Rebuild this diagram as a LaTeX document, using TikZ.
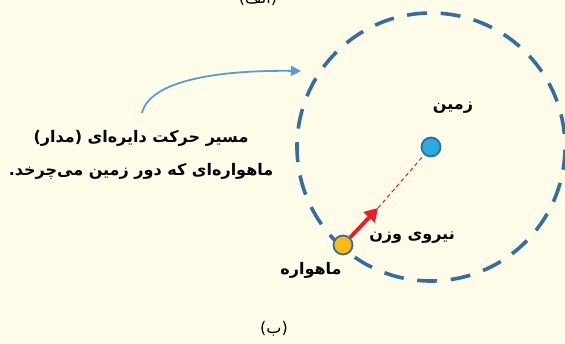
\documentclass[tikz,border=0pt]{standalone}
\usepackage{fontspec}
\newfontfamily\farsi[Script=Arabic]{DejaVu Sans}
\TeXXeTstate=1
\usetikzlibrary{arrows.meta}
\definecolor{paper}{RGB}{255,253,233}
\definecolor{orbitblue}{RGB}{52,110,160}
\definecolor{earthblue}{RGB}{41,171,226}
\definecolor{satyellow}{RGB}{253,185,19}
\definecolor{pointerblue}{RGB}{91,155,213}
\definecolor{forcered}{RGB}{237,28,36}
\begin{document}
\begin{tikzpicture}
[
    x=1pt, y=-1pt,
    farsitext/.style={font=\farsi\bfseries\fontsize{16}{33}\selectfont, inner sep=0pt},
    orbit/.style={draw=orbitblue, line width=3.6pt, dash pattern=on 20pt off 13.6pt, dash phase=20.7pt},
    body/.style={circle, draw=orbitblue, line width=1.8pt, minimum size=19pt, inner sep=0pt}
]
    \fill [paper] (0,0) rectangle (565,343);
    \useasboundingbox (0,0) rectangle (565,343);

    % orbit
    \draw [orbit] (431,147) circle (134pt);

    \node [body, fill=earthblue] (earth) at (431,147) {};
    \node [body, fill=satyellow] (sat) at (343,245) {};
    \coordinate (tip) at (378,208);

    % weight force
    \draw [forcered, line width=1pt, dash pattern=on 4pt off 3pt] (tip) -- (earth);
    \draw [forcered, line width=3.8pt, -{Triangle[length=13pt, width=15pt]}] (sat) -- (tip);

    % labels
    \node [farsitext] (earthtxt) at (453,108) {\beginR زمین\endR};
    \node [farsitext] (forcetxt) at (412,238) {\beginR نیروی وزن\endR};
    \node [farsitext] (sattxt) at (311,270) {\beginR ماهواره\endR};
    \node [farsitext, align=center] (orbittxt) at (141,155)
        {\beginR مسیر حرکت دایره‌ای (مدار)\endR\\ \beginR ماهواره‌ای که دور زمین می‌چرخد.\endR};
    \coordinate (pointer) at (301,71);
    \draw [pointerblue, line width=1.8pt, -{Triangle[length=10pt, width=10pt]}]
        (142,113) .. controls (150,80) and (220,70) .. (pointer);

    \node [farsitext, font=\farsi\fontsize{16}{18}\selectfont] (fig) at (274,329) {\beginR (ب)\endR};
    \node [farsitext, font=\farsi\fontsize{16}{18}\selectfont] (figa) at (258,-2) {\beginR (الف)\endR};
\end{tikzpicture}
\end{document}
